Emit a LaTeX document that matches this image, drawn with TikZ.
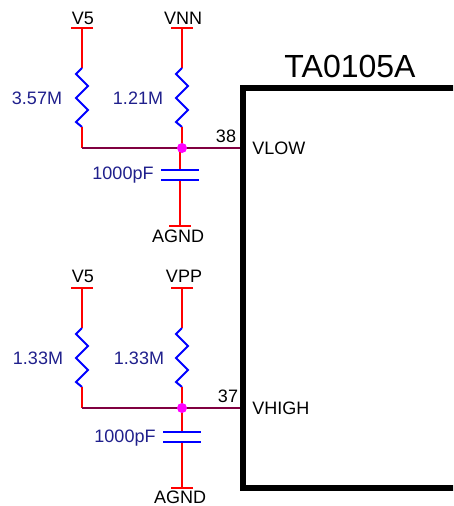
\documentclass[tikz,border=0pt]{standalone}
\usepackage{fontspec}
\setmainfont{Liberation Sans}
\definecolor{wirered}{HTML}{FF0000}
\definecolor{partblue}{HTML}{0000FF}
\definecolor{netmaroon}{HTML}{800040}
\definecolor{valnavy}{HTML}{1F1F8C}
\definecolor{dotpink}{HTML}{FF00FF}
\tikzset{
  lead/.style={draw=wirered,line width=1.5pt},
  part/.style={draw=partblue,line width=1.5pt,line join=miter},
  net/.style={draw=netmaroon,line width=1.5pt},
  chip/.style={draw=black,line width=4.5pt},
  lbl/.style={font=\fontsize{13.5pt}{15pt}\selectfont,text=black,inner sep=0pt},
  val/.style={font=\fontsize{13.5pt}{15pt}\selectfont,text=valnavy,inner sep=0pt},
  junction/.style={circle,fill=dotpink,inner sep=0pt,minimum size=7.5pt}
}
% #1 name prefix, #2 x, #3 top bar y, #4 resistor start y, #5 net y
\newcommand{\pullup}[5]{
  \coordinate (#1t) at (#2,#3);
  \coordinate (#1a) at (#2,#4);
  \coordinate (#1b) at (#2,#4+59);
  \draw[lead] (#2-11,#3) -- (#2+11,#3);
  \draw[lead] (#1t) -- (#1a);
  \draw[part] (#1a) -- (#2-6,#4+6) -- (#2+6,#4+18) -- (#2-6,#4+30) -- (#2+6,#4+42) -- (#2-6,#4+54) -- (#1b);
  \draw[lead] (#1b) -- (#2,#5);
}
% #1 prefix, #2 x, #3 plate 1 y, #4 plate 2 y, #5 bottom y, #6 net y
\newcommand{\decap}[6]{
  \coordinate (#1p) at (#2,#3);
  \coordinate (#1q) at (#2,#4);
  \coordinate (#1g) at (#2,#5);
  \draw[lead] (#2,#6) -- (#1p);
  \draw[lead] (#1q) -- (#1g);
  \draw[part] (#2-19,#3) -- (#2+19,#3);
  \draw[part] (#2-19,#4) -- (#2+19,#4);
  \draw[lead] (#2-11,#5) -- (#2+11,#5);
}
\begin{document}
\begin{tikzpicture}[x=0.75pt,y=-0.75pt]
\useasboundingbox (0,0) rectangle (453,506);
\clip (0,0) rectangle (453,506);
\fill[white] (0,0) rectangle (453,506);
% upper network
\pullup{A}{82}{28}{68}{148}
\pullup{B}{182}{28}{68}{148}
\decap{C}{180}{170}{180}{226}{148}
\coordinate (pin38) at (240,148);
\draw[net] (82,148) -- (pin38);
\node[junction] (J1) at (182,148) {};
% lower network
\pullup{D}{82}{288}{328}{408}
\pullup{E}{182}{288}{328}{408}
\decap{F}{182}{432}{442}{488}{408}
\coordinate (pin37) at (240,408);
\draw[net] (82,408) -- (pin37);
\node[junction] (J2) at (182,408) {};
% chip
\draw[chip,line join=miter] (460,88) -- (242.5,88) -- (242.5,488) -- (460,488);
\node[font=\fontsize{24pt}{26pt}\selectfont,inner sep=0pt] (title) at (350,66) {TA0105A};
\node[lbl,anchor=west] (vlow) at (252,148) {VLOW};
\node[lbl,anchor=west] (vhigh) at (252,408) {VHIGH};
\node[lbl] (n38) at (226,136) {38};
\node[lbl] (n37) at (228,396) {37};
% supply labels
\node[lbl] (s1) at (83,18) {V5};
\node[lbl] (s2) at (183,18) {VNN};
\node[lbl] (s3) at (178,236) {AGND};
\node[lbl] (s4) at (83,276) {V5};
\node[lbl] (s5) at (184,276) {VPP};
\node[lbl] (s6) at (180,497) {AGND};
% values
\node[val] (v1) at (37,98) {3.57M};
\node[val] (v2) at (138,98) {1.21M};
\node[val] (v3) at (123,175) {1000pF};
\node[val] (v4) at (38,358) {1.33M};
\node[val] (v5) at (139,358) {1.33M};
\node[val] (v6) at (125,438) {1000pF};
\end{tikzpicture}
\end{document}
